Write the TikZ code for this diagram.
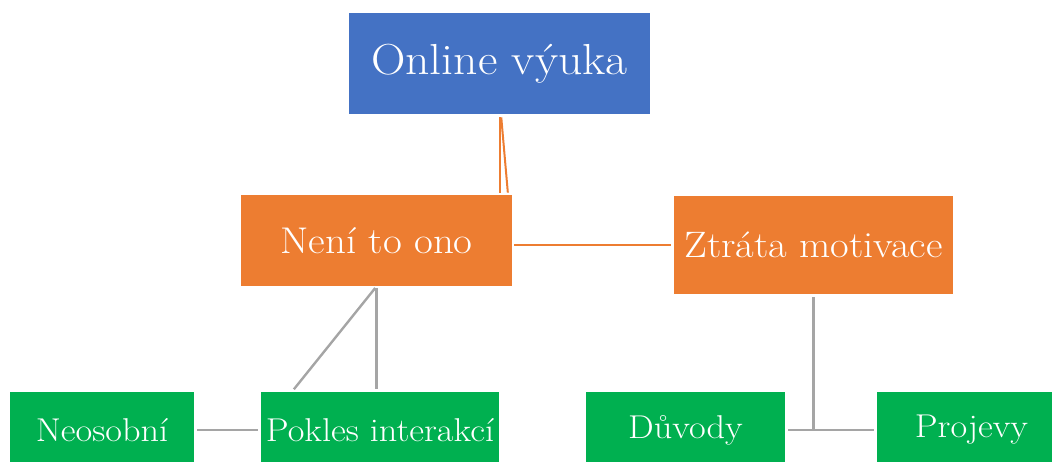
\documentclass[tikz,border=0pt]{standalone}
\usepackage{fontspec}
\setmainfont{Latin Modern Roman}[FakeStretch=1.1]
\usetikzlibrary{positioning,calc}
\definecolor{topblue}{HTML}{4472C4}
\definecolor{midorange}{HTML}{ED7D31}
\definecolor{leafgreen}{HTML}{00B050}
\definecolor{linkgray}{HTML}{A5A5A5}
\tikzset{
  box/.style={fill=#1, text=white, inner sep=0pt, align=center},
  orangelink/.style={draw=midorange, line width=1pt},
  graylink/.style={draw=linkgray, line width=1.2pt},
}

\begin{document}
\begin{tikzpicture}[x=0.5pt,y=-0.5pt]
  \useasboundingbox (0,0) rectangle (1052,461);
  \clip (0,0) rectangle (1052,461);
  % top level
  \node[box=topblue, minimum width=150.5pt, minimum height=50.5pt, font=\fontsize{21.7}{26}\selectfont] (top) at (499.5,63.5) {Online výuka};
  % middle level
  \node[box=midorange, minimum width=135.5pt, minimum height=45.5pt, font=\fontsize{18.6}{22}\selectfont] (nene) at (376.5,240.5) {Není to ono};
  \node[box=midorange, minimum width=139.5pt, minimum height=49pt, font=\fontsize{18.4}{22}\selectfont] (ztrata) at (813.5,245) {Ztráta motivace};
  % bottom level, boxes run past the lower edge
  \foreach \name/\x/\w/\txt in {neosobni/102/92/Neosobní, pokles/380/119/Pokles interakcí, duvody/685.5/99.5/Důvody, projevy/971.5/94.5/Projevy} {
    \node[box=leafgreen, minimum width=\w pt, minimum height=38pt, font=\fontsize{16.5}{20}\selectfont] (\name) at (\x,430) {\txt};
  }
  % links
  \draw[orangelink, shorten <=1.5pt, shorten >=1pt] (top.south) -- (top.south |- nene.north);
  \draw[orangelink, shorten <=1.5pt, shorten >=1pt] ([xshift=0.75pt]top.south) -- ([xshift=4.25pt]top.south |- nene.north);
  \draw[orangelink, shorten <=1pt, shorten >=1.5pt] (nene.east |- ztrata.west) -- (ztrata.west);
  \draw[graylink, shorten <=1pt, shorten >=1.5pt] (nene.south) -- (nene.south |- pokles.north);
  \draw[graylink, shorten <=1pt, shorten >=1.5pt] (nene.south) -- ([xshift=-42.25pt]nene.south |- pokles.north);
  \draw[graylink, shorten <=1.5pt, shorten >=1.5pt] (neosobni) -- (pokles);
  \draw[graylink, shorten <=1.5pt] (ztrata.south) -- (ztrata.south |- duvody.east);
  \draw[graylink, shorten <=1.5pt, shorten >=1.5pt] (duvody.east) -- (projevy.west);
\end{tikzpicture}
\end{document}
